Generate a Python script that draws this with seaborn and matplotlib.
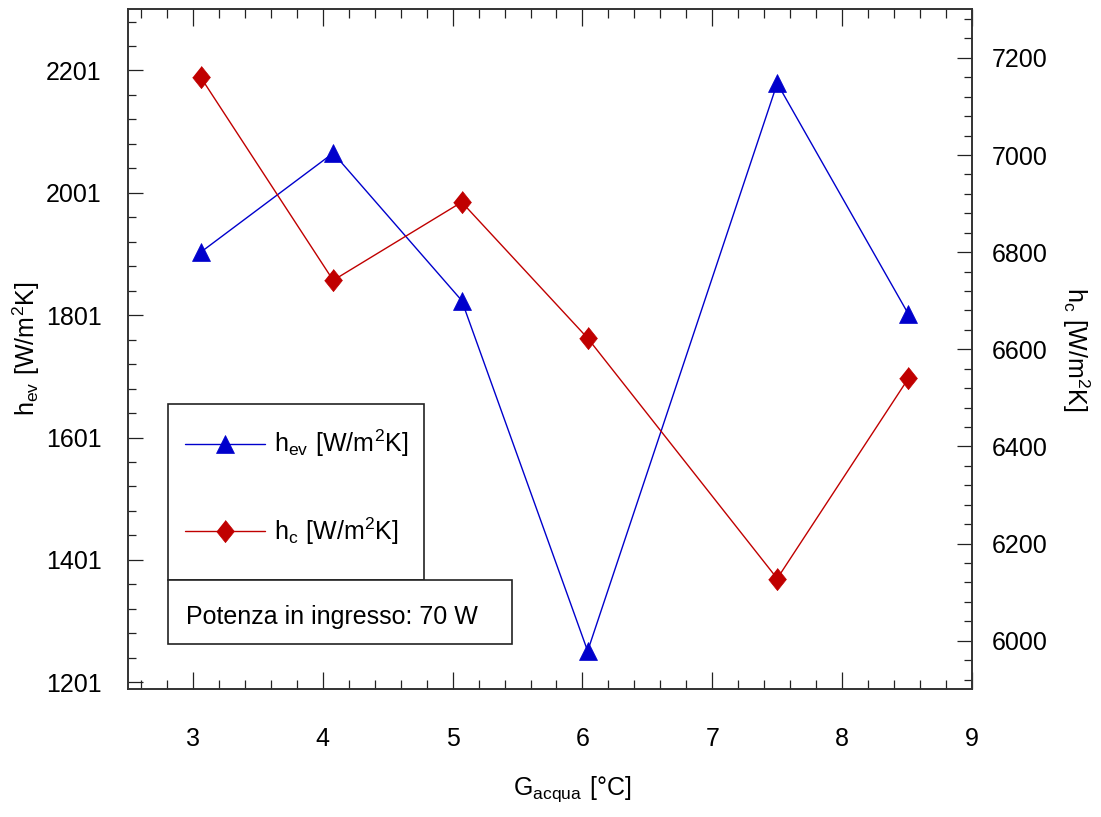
import numpy as np
import pandas as pd
import seaborn as sns
import matplotlib.pyplot as plt
from matplotlib.ticker import MultipleLocator
from matplotlib.patches import Rectangle

# dati
g_acqua = [3.06, 4.08, 5.07, 6.04, 7.5, 8.51]
h_ev = [1904, 2066, 1825, 1252, 2180, 1803]
h_c = [7160, 6742, 6903, 6623, 6128, 6540]

lab_ev = r'$\mathregular{h_{ev}\ [W/m^2K]}$'
lab_c = r'$\mathregular{h_{c}\ [W/m^2K]}$'
lab_x = r'$\mathregular{G_{acqua}\ [°C]}$'
nota = 'Potenza in ingresso: 70 W'

blu = '#0000cc'
rosso = '#c00000'

sns.set_style('white')
plt.rcParams['font.family'] = ['Liberation Sans', 'DejaVu Sans']
plt.rcParams['mathtext.fontset'] = 'custom'
plt.rcParams['mathtext.rm'] = 'Liberation Sans'
plt.rcParams['font.size'] = 18
plt.rcParams['text.color'] = 'black'
plt.rcParams['axes.labelcolor'] = 'black'

df = pd.DataFrame({'g': g_acqua, 'ev': h_ev, 'c': h_c})

fig = plt.figure(figsize=(11.01, 8.17), dpi=100)
ax = fig.add_axes([0.1163, 0.1563, 0.7665, 0.8323])
ax2 = ax.twinx()

sns.lineplot(data=df, x='g', y='ev', ax=ax, color=blu, linewidth=1, marker='^',
             markersize=13, markeredgecolor=blu, markeredgewidth=0.5, label=lab_ev, legend=False)
diam = [(0, 1), (0.8, 0), (0, -1), (-0.8, 0)]
sns.lineplot(data=df, x='g', y='c', ax=ax2, color=rosso, linewidth=1, marker=diam,
             markersize=16, markeredgecolor=rosso, markeredgewidth=0.5, label=lab_c, legend=False)

ax.set_xlim(2.5, 9)
ax.set_ylim(1189.5, 2301)
ax2.set_ylim(5900, 7300)

ax.xaxis.set_major_locator(MultipleLocator(1))
ax.xaxis.set_minor_locator(MultipleLocator(0.2))
ax.yaxis.set_major_locator(MultipleLocator(200, offset=1))
ax.yaxis.set_minor_locator(MultipleLocator(40, offset=1))
ax2.yaxis.set_major_locator(MultipleLocator(200))
ax2.yaxis.set_minor_locator(MultipleLocator(40))

ax.tick_params(axis='x', which='both', direction='in', top=True, bottom=True, colors='#222222', labelcolor='black')
ax.tick_params(axis='x', which='major', length=12, width=0.9, pad=27)
ax.tick_params(axis='x', which='minor', length=6.5, width=0.9)
ax.tick_params(axis='y', which='both', direction='in', left=True, right=False, colors='#222222', labelcolor='black')
ax.tick_params(axis='y', which='major', length=11, width=0.9, pad=19)
ax.tick_params(axis='y', which='minor', length=6, width=0.9)
ax2.tick_params(axis='y', which='both', direction='in', right=True, colors='#222222', labelcolor='black')
ax2.tick_params(axis='y', which='major', length=11, width=0.9, pad=14)
ax2.tick_params(axis='y', which='minor', length=6, width=0.9)

for a in (ax, ax2):
    for s in a.spines.values():
        s.set_color('#333333')
        s.set_linewidth(1.2)

ax.set_xlabel(lab_x, color='black')
ax.xaxis.set_label_coords(0.526, -0.125)
ax.set_ylabel(lab_ev, color='black')
ax.yaxis.set_label_coords(-0.102, 0.5)
ax2.set_ylabel(lab_c, rotation=270, va='bottom', color='black')
ax2.yaxis.set_label_coords(1.104, 0.5)

# riquadro legenda + riquadro nota
ax2.add_patch(Rectangle((0.0474, 0.1607), 0.3033, 0.2589, transform=ax2.transAxes,
                        facecolor='white', edgecolor='#222222', linewidth=1.2, zorder=4))
ax2.add_patch(Rectangle((0.0474, 0.0666), 0.4076, 0.094, transform=ax2.transAxes,
                        facecolor='white', edgecolor='#222222', linewidth=1.2, zorder=5))

handles = ax.get_lines() + ax2.get_lines()
leg = ax2.legend(handles=handles, labels=[lab_ev, lab_c], loc='upper left',
                 bbox_to_anchor=(0.0675, 0.3843), borderaxespad=0, borderpad=0,
                 labelspacing=2.25, handlelength=3.2, handletextpad=0.35, frameon=False)
leg.set_zorder(6)
for t in leg.get_texts():
    t.set_color('black')

ax2.text(0.0687, 0.1068, nota, transform=ax2.transAxes, va='center', ha='left',
         color='black', zorder=6)

fig.savefig('out.png', dpi=100)
